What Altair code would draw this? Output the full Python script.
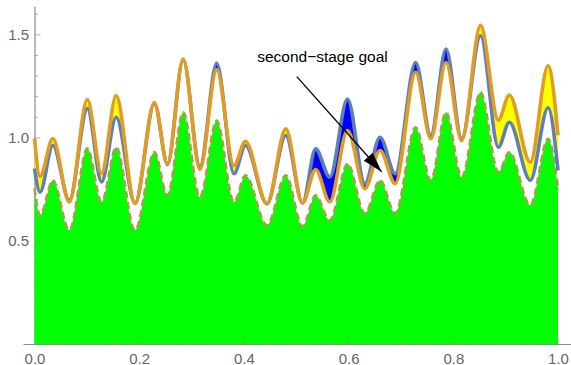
import altair as alt
import pandas as pd

# common x positions of the curve extremes
X = [0.0, 0.0105, 0.035, 0.0665, 0.101, 0.128, 0.156, 0.192, 0.229, 0.254, 0.284, 0.316,
     0.348, 0.381, 0.403, 0.444, 0.480, 0.512, 0.537, 0.564, 0.598, 0.631, 0.660, 0.689,
     0.728, 0.757, 0.786, 0.816, 0.852, 0.886, 0.907, 0.947, 0.981, 1.0]
# green filled curve
GREEN = [0.755, 0.624, 0.794, 0.552, 0.949, 0.689, 0.955, 0.552, 0.931, 0.721, 1.124, 0.713,
         1.084, 0.689, 0.818, 0.576, 0.818, 0.571, 0.721, 0.600, 0.875, 0.634, 0.794, 0.634,
         1.052, 0.794, 1.124, 0.810, 1.221, 0.834, 0.931, 0.673, 0.996, 0.761]
# blue curve
BLUE = [0.852, 0.737, 0.963, 0.697, 1.142, 0.786, 1.100, 0.682, 1.166, 0.871, 1.379, 0.862,
        1.362, 0.826, 0.963, 0.681, 1.012, 0.684, 0.947, 0.810, 1.189, 0.778, 1.003, 0.826,
        1.366, 1.012, 1.431, 0.996, 1.496, 0.955, 1.076, 0.794, 1.146, 0.842]
# orange curve
ORANGE = [0.997, 0.813, 0.997, 0.689, 1.186, 0.828, 1.205, 0.682, 1.171, 0.876, 1.382, 0.847,
          1.331, 0.866, 0.984, 0.681, 1.044, 0.684, 0.847, 0.689, 1.036, 0.754, 0.939, 0.778,
          1.318, 0.996, 1.366, 0.987, 1.546, 1.086, 1.208, 0.882, 1.350, 1.012]

X_LABELS = [0.0, 0.2, 0.4, 0.6, 0.8, 1.0]
X_MAJOR = [0.2, 0.4, 0.6, 0.8, 1.0]
X_MINOR = [0.05, 0.1, 0.15, 0.25, 0.3, 0.35, 0.45, 0.5, 0.55, 0.65, 0.7, 0.75, 0.85, 0.9, 0.95]
Y_MAJOR = [0.5, 1.0, 1.5]
Y_MINOR = [0.1, 0.2, 0.3, 0.4, 0.6, 0.7, 0.8, 0.9, 1.1, 1.2, 1.3, 1.4, 1.6]

ANN_TEXT = ["second\u2212stage goal"]
ANN_TEXT_X = [0.550]
ANN_TEXT_Y = [1.393]
ARROW_X1 = [0.501]
ARROW_Y1 = [1.297]
ARROW_X2 = [0.663]
ARROW_Y2 = [0.836]

df = pd.DataFrame({"x": X, "g": GREEN, "b": BLUE, "o": ORANGE})

AX = "#8c8c8c"
LBL = "#666666"
FONT = "Liberation Sans"

xscale = alt.Scale(domain=[-0.022, 1.0248], nice=False, zero=False)
yscale = alt.Scale(domain=[0, 1.64], nice=False)

x_axis = alt.Axis(values=X_LABELS, format=".1f", ticks=False, grid=False, title=None,
                  domainColor=AX, domainWidth=1.2, labelColor=LBL, labelFontSize=15,
                  labelFont=FONT, labelPadding=7)
y_axis = alt.Axis(values=Y_MAJOR, format=".1f", ticks=False, grid=False, title=None,
                  domainColor=AX, domainWidth=1.2, labelColor=LBL, labelFontSize=15,
                  labelFont=FONT, labelPadding=6, offset=-11.5)


def XE(field):
    return alt.X(field, type="quantitative", scale=xscale, axis=x_axis, title=None)


def YE(field):
    return alt.Y(field, type="quantitative", scale=yscale, axis=y_axis, title=None)


base = alt.Chart(df)

green_area = base.mark_area(color="#00ff00", interpolate="monotone").encode(
    x=XE("x"), y=YE("g"))
green_line = base.mark_line(color="#a8a045", strokeWidth=2.6, strokeDash=[7, 4],
                            interpolate="monotone").encode(x=XE("x"), y=YE("g"))
between = base.transform_calculate(mx="max(datum.b, datum.o)")
yellow_fill = between.mark_area(color="#ffff00", interpolate="monotone").encode(
    x=XE("x"), y=YE("b"), y2="mx:Q")
blue_fill = between.mark_area(color="#0000ff", interpolate="monotone").encode(
    x=XE("x"), y=YE("o"), y2="mx:Q")
blue_line = base.mark_line(color="#5e81b5", strokeWidth=3.6, interpolate="monotone").encode(
    x=XE("x"), y=YE("b"))
orange_line = base.mark_line(color="#e19c24", strokeWidth=3.6, interpolate="monotone").encode(
    x=XE("x"), y=YE("o"))


def xticks(vals, size):
    return alt.Chart(pd.DataFrame({"v": vals})).transform_calculate(z="0").mark_tick(
        orient="vertical", size=size, thickness=1, color=AX, yOffset=-size / 2
    ).encode(x=XE("v"), y=YE("z"))


def yticks(vals, size):
    return alt.Chart(pd.DataFrame({"v": vals})).transform_calculate(z="0").mark_tick(
        orient="horizontal", size=size, thickness=1, color=AX, xOffset=size / 2
    ).encode(y=YE("v"), x=XE("z"))


ann = pd.DataFrame({"t": ANN_TEXT, "tx": ANN_TEXT_X, "ty": ANN_TEXT_Y,
                    "x1": ARROW_X1, "y1": ARROW_Y1, "x2": ARROW_X2, "y2": ARROW_Y2})
arrow_line = alt.Chart(ann).mark_rule(color="black", strokeWidth=1.3).encode(
    x=XE("x1"), y=YE("y1"), x2="x2:Q", y2="y2:Q")
arrow_head = alt.Chart(ann).mark_point(
    shape="M0,0L-0.3,1L0.3,1Z", filled=True, color="black", opacity=1, size=1600, angle=138.2,
    strokeWidth=0,
).encode(x=XE("x2"), y=YE("y2"))
ann_text = alt.Chart(ann).mark_text(font=FONT, fontSize=15.5, color="black", align="center",
                                    baseline="middle").encode(
    x=XE("tx"), y=YE("ty"), text="t:N")

chart = alt.layer(
    green_area, green_line, yellow_fill, blue_fill, blue_line, orange_line,
    xticks(X_MAJOR, 6), xticks(X_MINOR, 3.5), yticks(Y_MAJOR, 6), yticks(Y_MINOR, 3.5),
    arrow_line, arrow_head, ann_text,
).properties(
    width=548, height=338,
    autosize=alt.AutoSizeParams(type="none"),
    padding={"left": 23, "top": 6, "right": 0, "bottom": 21},
    background="white",
).configure_view(stroke=None)

chart.save("out.html", embed_options={"renderer": "svg", "actions": False})
